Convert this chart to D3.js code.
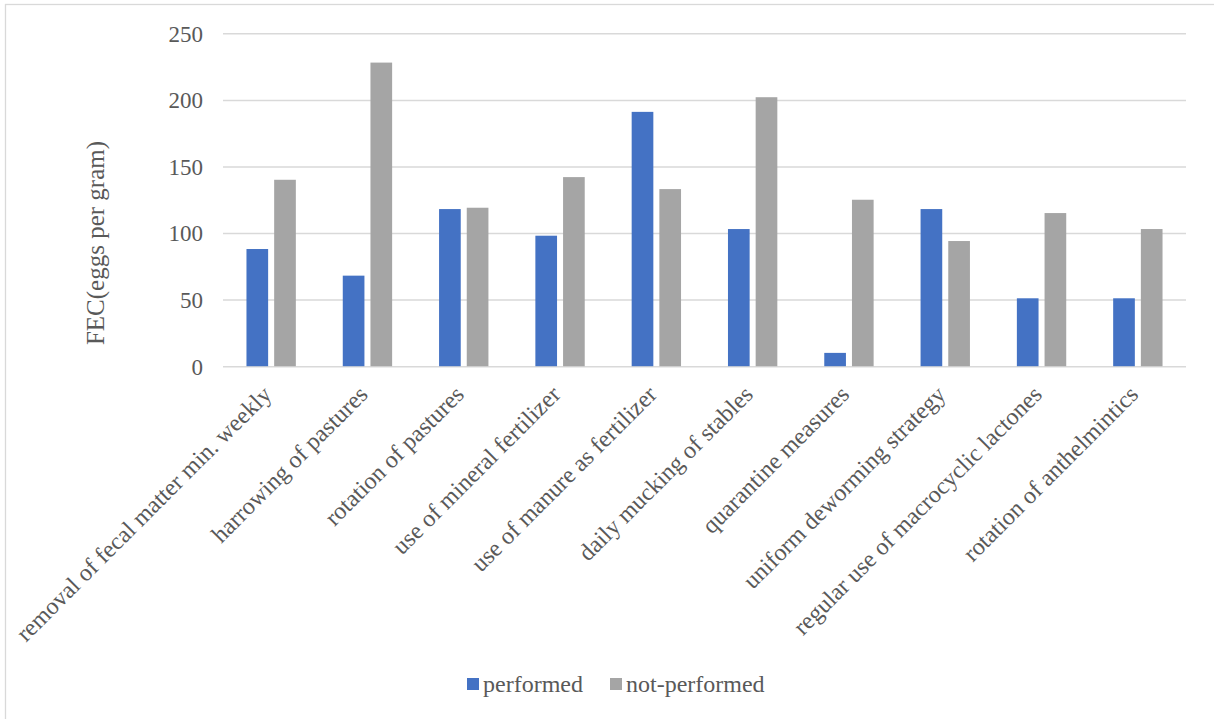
<!DOCTYPE html>
<html>
<head>
<meta charset="utf-8">
<script src="https://cdn.jsdelivr.net/npm/d3@7/dist/d3.min.js"></script>
<style>
  html, body { margin: 0; padding: 0; background: #fff; }
  svg { display: block; }
  text { font-family: "Liberation Serif", "Times New Roman", serif; fill: #595959; }
</style>
</head>
<body>
<svg id="chart" width="1214" height="719"></svg>
<script>
const categories = [
  "removal of fecal matter min. weekly",
  "harrowing of pastures",
  "rotation of pastures",
  "use of mineral fertilizer",
  "use of manure as fertilizer",
  "daily mucking of stables",
  "quarantine measures",
  "uniform deworming strategy",
  "regular use of macrocyclic lactones",
  "rotation of anthelmintics"
];
const seriesNames = ["performed", "not-performed"];
const performed    = [88, 68, 118, 98, 191, 103, 10, 118, 51, 51];
const notPerformed = [140, 228, 119, 142, 133, 202, 125, 94, 115, 103];
const yTicks = [0, 50, 100, 150, 200, 250];
const colors = ["#4472C4", "#A5A5A5"];
const yTitle = "FEC(eggs per gram)";

const svg = d3.select("#chart");
const W = 1214, H = 719;

// frame
svg.append("rect").attr("x", 5.5).attr("y", 4.5).attr("width", W + 10).attr("height", H + 10)
  .attr("fill", "none").attr("stroke", "#d9d9d9").attr("stroke-width", 1.3);

const plot = { left: 223, right: 1186, top: 33.3, bottom: 366.2 };

const x0 = d3.scaleBand().domain(categories).range([plot.left, plot.right]).padding(0);
const bw = x0.bandwidth();
const x1 = d3.scaleBand().domain(seriesNames)
  .range([bw * 0.2437, bw * 0.7563]).paddingInner(0.2175).paddingOuter(0);
const y = d3.scaleLinear().domain([0, 250]).range([plot.bottom, plot.top]);
const color = d3.scaleOrdinal().domain(seriesNames).range(colors);

// gridlines via axis
const yAxis = d3.axisLeft(y).tickValues(yTicks).tickSize(-(plot.right - plot.left)).tickPadding(20);
const gy = svg.append("g").attr("transform", `translate(${plot.left},0)`).call(yAxis);
gy.select(".domain").remove();
gy.selectAll(".tick line").attr("stroke", "#d9d9d9").attr("stroke-width", 1.5);
gy.selectAll(".tick text").attr("font-size", "23px").attr("fill", "#595959").attr("dy", "0.34em");

// bars
const rows = categories.map((c, i) => ({ cat: c, vals: [performed[i], notPerformed[i]] }));
const groups = svg.append("g").selectAll("g").data(rows).join("g")
  .attr("transform", d => `translate(${x0(d.cat)},0)`);
groups.selectAll("rect")
  .data(d => seriesNames.map((s, k) => ({ s, v: d.vals[k] })))
  .join("rect")
  .attr("x", d => x1(d.s))
  .attr("width", x1.bandwidth())
  .attr("y", d => y(d.v))
  .attr("height", d => y(0) - y(d.v))
  .attr("fill", d => color(d.s));

// x axis labels
const xAxis = d3.axisBottom(x0).tickSize(0).tickPadding(0);
const gx = svg.append("g").attr("transform", `translate(0,${plot.bottom})`).call(xAxis);
gx.select(".domain").remove();
gx.selectAll(".tick text")
  .attr("font-size", "24px").attr("fill", "#595959")
  .attr("text-anchor", "end")
  .attr("y", 0).attr("dy", "0.75em")
  .attr("transform", "translate(-11,17) rotate(-45)");

// y title
svg.append("text")
  .attr("transform", "translate(104,243) rotate(-90)")
  .attr("text-anchor", "middle")
  .attr("font-size", "25px")
  .text(yTitle);

// legend
const legendItems = [
  { s: seriesNames[0], x: 467 },
  { s: seriesNames[1], x: 610 }
];
const lg = svg.append("g");
legendItems.forEach(it => {
  lg.append("rect").attr("x", it.x).attr("y", 678).attr("width", 12).attr("height", 12)
    .attr("fill", color(it.s));
  lg.append("text").attr("x", it.x + 16).attr("y", 692).attr("font-size", "24px").text(it.s);
});
</script>
</body>
</html>
